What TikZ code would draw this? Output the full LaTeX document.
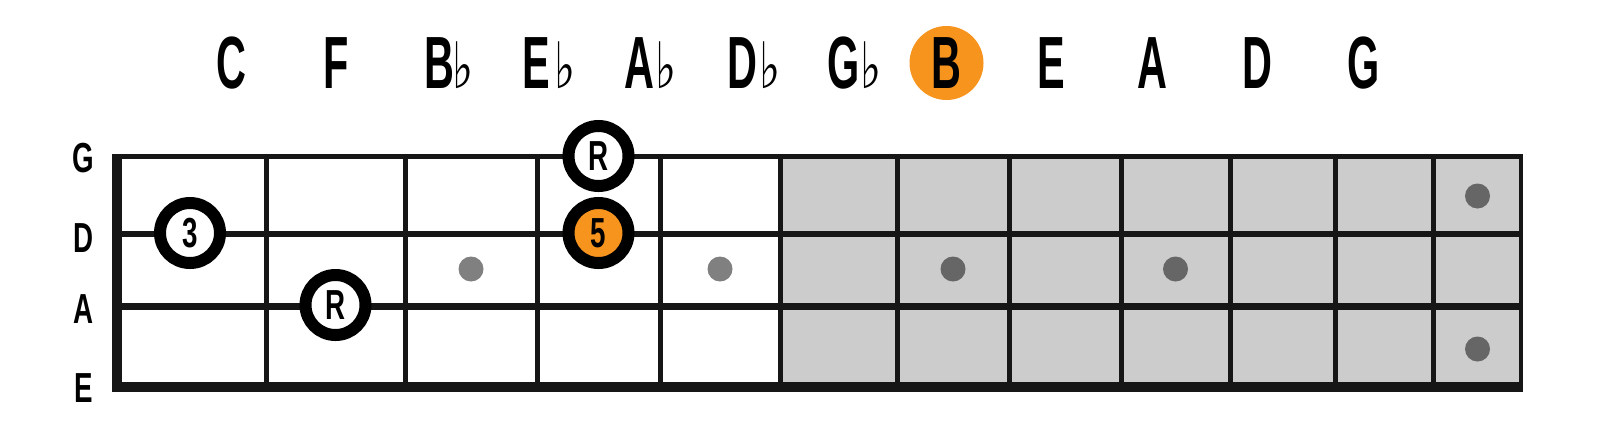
\documentclass[tikz,border=0pt]{standalone}
\usepackage{fontspec}
\newfontfamily\cond[FakeStretch=0.56]{Liberation Sans Bold}
\newfontfamily\condw[FakeStretch=0.66]{Liberation Sans Bold}
\newfontfamily\symf[FakeStretch=0.7]{DejaVu Sans}
\definecolor{orng}{RGB}{247,148,30}
\definecolor{board}{RGB}{204,204,204}
\definecolor{dotlight}{RGB}{128,128,128}
\definecolor{dotdark}{RGB}{102,102,102}
\definecolor{ink}{RGB}{22,22,22}
\tikzset{
  note/.style={anchor=base, inner sep=0pt, font=\cond\fontsize{74}{74}\selectfont, text=black},
  flatsign/.style={anchor=base west, inner sep=0pt, font=\symf\fontsize{64}{64}\selectfont, text=black},
  strlabel/.style={anchor=base, inner sep=0pt, font=\condw\fontsize{42}{42}\selectfont, text=black},
  finger/.style={circle, draw=black, line width=12pt, fill=white, minimum size=60pt, inner sep=0pt, font=\condw\fontsize{42}{42}\selectfont},
  marker/.style={circle, minimum size=25pt, inner sep=0pt},
  fretline/.style={draw=ink, line width=5pt},
}
\begin{document}
\begin{tikzpicture}[x=1pt,y=-1pt]
\useasboundingbox (0,0) rectangle (1597,440);
% top note names
\node[note] (nC) at (231.5,88) {C};
\node[note] (nF) at (336,88) {F};
\node[note] (nBb) at (439,88) {B};
\node[flatsign] (fBb) at (452,88) {♭};
\node[note] (nEb) at (536.5,88) {E};
\node[flatsign] (fEb) at (554,88) {♭};
\node[note] (nAb) at (639,88) {A};
\node[flatsign] (fAb) at (655,88) {♭};
\node[note] (nDb) at (742.5,88) {D};
\node[flatsign] (fDb) at (759,88) {♭};
\node[note] (nGb) at (844,88) {G};
\node[flatsign] (fGb) at (860,88) {♭};
\node[circle, fill=orng, minimum size=74pt, inner sep=0pt] (hB) at (946.5,63) {};
\node[note] (nB) at (946.5,88) {B};
\node[note] (nE) at (1051.5,88) {E};
\node[note] (nA) at (1152,88) {A};
\node[note] (nD) at (1257,88) {D};
\node[note] (nG) at (1363.5,88) {G};
% string labels
\node[strlabel] (sG) at (83.5,172) {G};
\node[strlabel] (sD) at (83.5,252) {D};
\node[strlabel] (sA) at (83.5,323) {A};
\node[strlabel] (sE) at (83.5,402) {E};
% shaded part of board
\fill[board] (780.5,156.5) rectangle (1521,387);
% frets
\foreach \fx in {266,405,537,660,780.5,897,1009.5,1121.5,1230,1335,1433}
  \draw[fretline] (\fx,156.5) -- (\fx,387);
\draw[draw=ink, line width=4.5pt] (1521,154) -- (1521,392);
% strings
\draw[draw=ink, line width=5pt] (112,156.5) -- (1523,156.5);
\draw[draw=ink, line width=6pt] (112,234) -- (1523,234);
\draw[draw=ink, line width=7pt] (112,306) -- (1523,306);
\draw[draw=ink, line width=10pt] (112,387) -- (1523.25,387);
% nut
\draw[draw=ink, line width=9.5pt] (116.75,154) -- (116.75,392);
% position markers
\node[marker, fill=dotlight] (m3) at (471,269) {};
\node[marker, fill=dotlight] (m5) at (720,269) {};
\node[marker, fill=dotdark] (m7) at (953,269) {};
\node[marker, fill=dotdark] (m9) at (1175.5,269) {};
\node[marker, fill=dotdark] (m12a) at (1477.5,196) {};
\node[marker, fill=dotdark] (m12b) at (1477.5,349) {};
% fingerings
\node[finger] (f3) at (190,233) {3};
\node[finger] (fR1) at (335.5,305) {R};
\node[finger] (fR2) at (598.5,156) {R};
\node[finger, fill=orng] (f5) at (598.5,233) {5};
\end{tikzpicture}
\end{document}
